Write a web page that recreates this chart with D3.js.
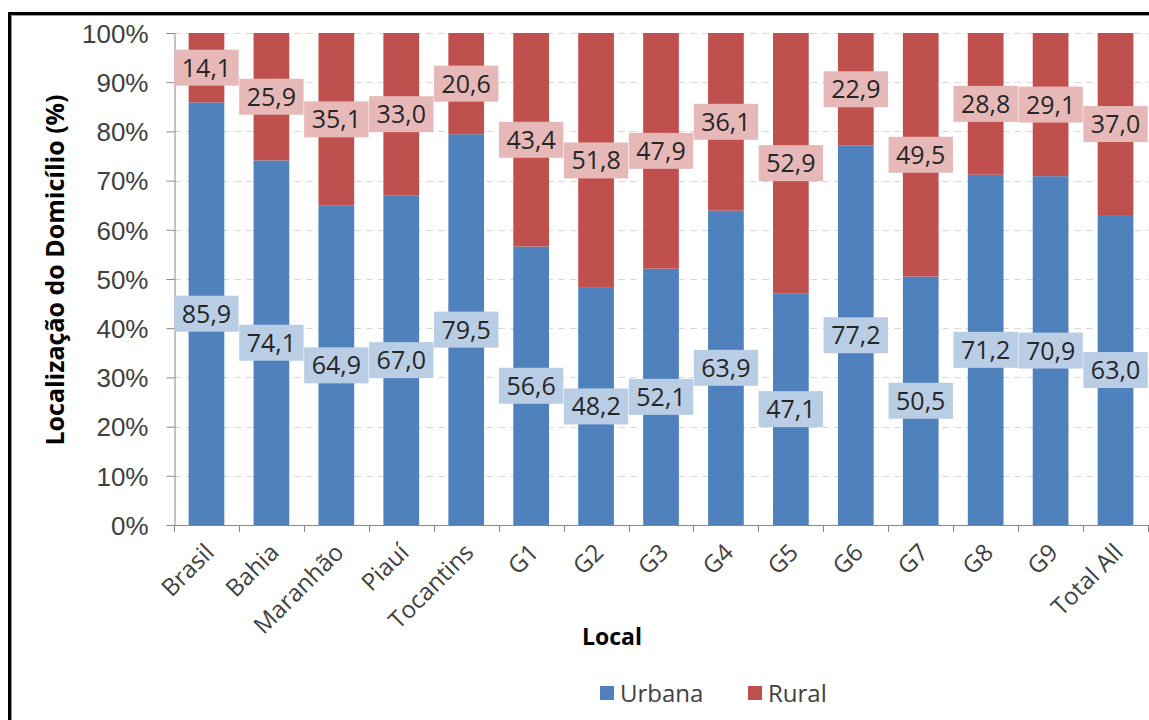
<!DOCTYPE html>
<html>
<head>
<meta charset="utf-8">
<script src="https://cdn.jsdelivr.net/npm/d3@7"></script>
<style>
  html, body { margin: 0; padding: 0; background: #fff; }
  svg { display: block; font-family: "Open Sans", "Noto Sans", sans-serif; }
</style>
</head>
<body>
<svg id="chart" width="1149" height="720"></svg>
<script>
// Household location by place: share urban vs rural (%)
const categories = ["Brasil", "Bahia", "Maranhão", "Piauí", "Tocantins", "G1", "G2", "G3", "G4", "G5", "G6", "G7", "G8", "G9", "Total All"];
const urbana = [85.9, 74.1, 64.9, 67.0, 79.5, 56.6, 48.2, 52.1, 63.9, 47.1, 77.2, 50.5, 71.2, 70.9, 63.0];
const rural  = [14.1, 25.9, 35.1, 33.0, 20.6, 43.4, 51.8, 47.9, 36.1, 52.9, 22.9, 49.5, 28.8, 29.1, 37.0];
const seriesNames = ["Urbana", "Rural"];
const yTicks = [0, 0.1, 0.2, 0.3, 0.4, 0.5, 0.6, 0.7, 0.8, 0.9, 1.0];

const colors = { Urbana: "#4f81bd", Rural: "#c0504d" };
const labelFill = { Urbana: "#b9cde5", Rural: "#e6b9b8" };

const svg = d3.select("#chart");

// outer frame (top and left edges of the chart border)
svg.append("line").attr("x1", 8).attr("x2", 1149).attr("y1", 13.5).attr("y2", 13.5)
  .attr("stroke", "#000").attr("stroke-width", 3);
svg.append("line").attr("x1", 8).attr("x2", 1149).attr("y1", 15.5).attr("y2", 15.5)
  .attr("stroke", "#9a9a9a").attr("stroke-width", 1);
svg.append("line").attr("x1", 9.5).attr("x2", 9.5).attr("y1", 12).attr("y2", 720)
  .attr("stroke", "#000").attr("stroke-width", 3);
svg.append("line").attr("x1", 11.5).attr("x2", 11.5).attr("y1", 15).attr("y2", 720)
  .attr("stroke", "#9a9a9a").attr("stroke-width", 1);

const plot = { left: 174, right: 1148, top: 33, bottom: 525 };

const x = d3.scaleBand().domain(categories).range([plot.left, plot.right]).paddingInner(0.45).paddingOuter(0.225);
const y = d3.scaleLinear().domain([0, 1]).range([plot.bottom, plot.top]);

const rows = categories.map((c, i) => ({ cat: c, Urbana: urbana[i], Rural: rural[i] }));
const stacked = d3.stack().keys(seriesNames).offset(d3.stackOffsetExpand)(rows);

// dashed gridlines
svg.append("g").selectAll("line").data(yTicks.filter(t => t > 0)).join("line")
  .attr("x1", plot.left).attr("x2", plot.right)
  .attr("y1", d => Math.round(y(d)) + 0.5).attr("y2", d => Math.round(y(d)) + 0.5)
  .attr("stroke", "#d9d9d9").attr("stroke-width", 1).attr("stroke-dasharray", "7,5");

// bars
svg.append("g").selectAll("g").data(stacked).join("g")
  .attr("fill", s => colors[s.key])
  .selectAll("rect").data(s => s).join("rect")
  .attr("x", d => x(d.data.cat))
  .attr("width", x.bandwidth())
  .attr("y", d => y(d[1]))
  .attr("height", d => y(d[0]) - y(d[1]));

// y axis
const yAxis = d3.axisLeft(y).tickValues(yTicks).tickFormat(d3.format(".0%")).tickSizeOuter(0).tickSize(8).tickPadding(18);
const gy = svg.append("g").attr("transform", `translate(${plot.left + 0.5},0)`).call(yAxis);
gy.select(".domain").attr("stroke", "#888");
gy.selectAll(".tick line").attr("stroke", "#888");
gy.selectAll(".tick text").attr("fill", "#404040").attr("font-size", 26).attr("dy", "0.36em");

// x axis line and category boundary ticks
const boundaries = categories.map((c, i) => plot.left + i * x.step()).concat([plot.right]);
svg.append("line").attr("x1", plot.left).attr("x2", plot.right + 1)
  .attr("y1", plot.bottom + 0.5).attr("y2", plot.bottom + 0.5).attr("stroke", "#888");
svg.append("g").selectAll("line").data(boundaries).join("line")
  .attr("x1", d => Math.round(d) + 0.5).attr("x2", d => Math.round(d) + 0.5)
  .attr("y1", plot.bottom).attr("y2", plot.bottom + 7).attr("stroke", "#888");

// category labels, rotated
svg.append("g").selectAll("text").data(categories).join("text")
  .attr("transform", d => `translate(${x(d) + x.bandwidth() / 2 + 3},${plot.bottom + 23}) rotate(-45)`)
  .attr("text-anchor", "end").attr("dy", "0.35em")
  .attr("font-size", 24).attr("fill", "#404040")
  .text(d => d);

// data labels, centred on each segment, drawn left to right per series
const fmt = v => v.toFixed(1).replace(".", ",");
stacked.forEach(s => {
  const g = svg.append("g");
  s.forEach((d, i) => {
    const val = s.key === "Urbana" ? urbana[i] : rural[i];
    const cx = x(d.data.cat) + x.bandwidth() / 2;
    const cy = y((d[0] + d[1]) / 2);
    const lg = g.append("g").attr("transform", `translate(${cx},${cy})`);
    const t = lg.append("text").attr("text-anchor", "middle").attr("dy", "0.36em")
      .attr("font-size", 25).attr("fill", "#262626").text(fmt(val));
    const w = t.node().getComputedTextLength() + 15;
    lg.insert("rect", "text").attr("x", -w / 2).attr("y", -18).attr("width", w).attr("height", 36)
      .attr("fill", labelFill[s.key]);
  });
});

// axis titles
svg.append("text")
  .attr("transform", `translate(64,270) rotate(-90)`)
  .attr("text-anchor", "middle").attr("font-size", 25).attr("font-weight", "bold").attr("fill", "#000")
  .text("Localização do Domicílio (%)");
svg.append("text").attr("x", 612).attr("y", 645).attr("text-anchor", "middle")
  .attr("font-size", 23).attr("font-weight", "bold").attr("fill", "#000").text("Local");

// legend
const legendPos = [600, 748];
const lg = svg.append("g").selectAll("g").data(seriesNames).join("g")
  .attr("transform", (d, i) => `translate(${legendPos[i]},686)`);
lg.append("rect").attr("width", 14).attr("height", 14).attr("fill", d => colors[d]);
lg.append("text").attr("x", 20).attr("y", 7).attr("dy", "0.36em")
  .attr("font-size", 24).attr("fill", "#404040").text(d => d);
</script>
</body>
</html>
